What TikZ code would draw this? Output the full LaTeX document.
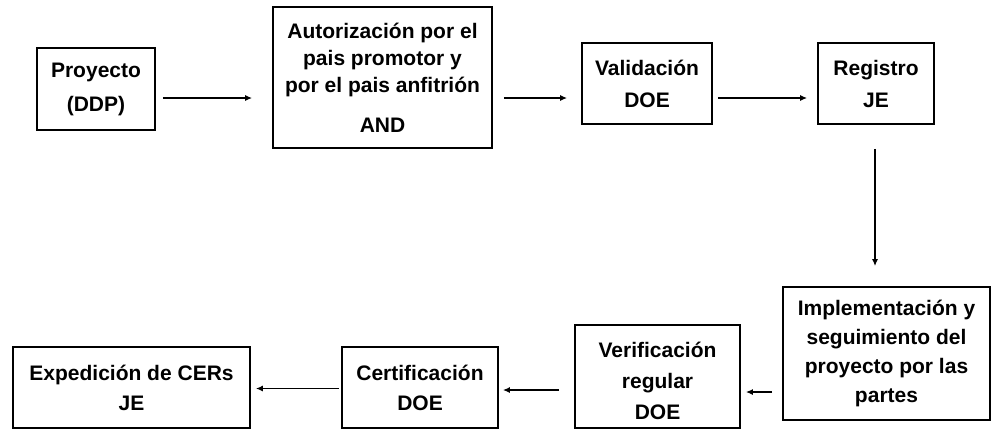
\documentclass[tikz,border=0pt]{standalone}
\usepackage{fontspec}
\setmainfont{Liberation Sans}
\usetikzlibrary{arrows.meta}
\begin{document}
\begin{tikzpicture}[x=1pt,y=-1pt,
caja/.style={draw=black,line width=1.8pt,inner sep=0pt,align=center,font=\fontsize{21}{30}\selectfont\bfseries},
flecha/.style={line width=1.3pt,-{Latex[length=7pt,width=6pt]}}]
\useasboundingbox (0,0) rectangle (993,429);
\node[caja,minimum width=118pt,minimum height=82pt,font=\fontsize{21}{34}\selectfont\bfseries] (proy) at (96,89) {Proyecto\\(DDP)};
\node[caja,minimum width=219pt,minimum height=141pt,font=\fontsize{21}{27}\selectfont\bfseries] (auto) at (382.5,77.5) {Autorización por el\\pais promotor y\\por el pais anfitrión\\[13pt]AND};
\node[caja,minimum width=130pt,minimum height=81pt,font=\fontsize{21}{32}\selectfont\bfseries] (vali) at (647,83.5) {Validación\\DOE};
\node[caja,minimum width=116pt,minimum height=81pt,font=\fontsize{21}{32}\selectfont\bfseries] (regi) at (876,83.5) {Registro\\JE};
\node[caja,minimum width=207pt,minimum height=133pt,font=\fontsize{21}{29}\selectfont\bfseries] (impl) at (886.5,353.5) {Implementación y\\seguimiento del\\proyecto por las\\partes};
\node[caja,minimum width=165pt,minimum height=103pt,font=\fontsize{21}{31}\selectfont\bfseries] (veri) at (657.5,376.5) {\\[-6pt]Verificación\\regular\\DOE};
\node[caja,minimum width=156pt,minimum height=81pt] (cert) at (420,387.5) {Certificación\\DOE};
\node[caja,minimum width=237pt,minimum height=81pt] (expe) at (131.5,387.5) {Expedición de CERs\\JE};
\draw[flecha,shorten <=7pt,shorten >=20pt] ([yshift=-9pt]proy.east) -- ([yshift=-20.5pt]auto.west);
\draw[flecha,shorten <=11pt,shorten >=14pt] ([yshift=-20.5pt]auto.east) -- ([yshift=-14.5pt]vali.west);
\draw[flecha,shorten <=5pt,shorten >=10pt] ([yshift=-14.5pt]vali.east) -- ([yshift=-14.5pt]regi.west);
\draw[flecha,shorten <=24pt,shorten >=20pt] ([xshift=-1pt]regi.south) -- ([xshift=-11.5pt]impl.north);
\draw[flecha,shorten <=10pt,shorten >=5pt] ([yshift=-38.5pt]impl.west) -- ([yshift=-15.5pt]veri.east);
\draw[flecha,shorten <=15pt,shorten >=4pt] ([yshift=-13.5pt]veri.west) -- ([yshift=-2.5pt]cert.east);
\draw[flecha,shorten <=2pt,shorten >=5pt] ([yshift=-1pt]cert.west) -- ([yshift=-1pt]expe.east);
\end{tikzpicture}
\end{document}
